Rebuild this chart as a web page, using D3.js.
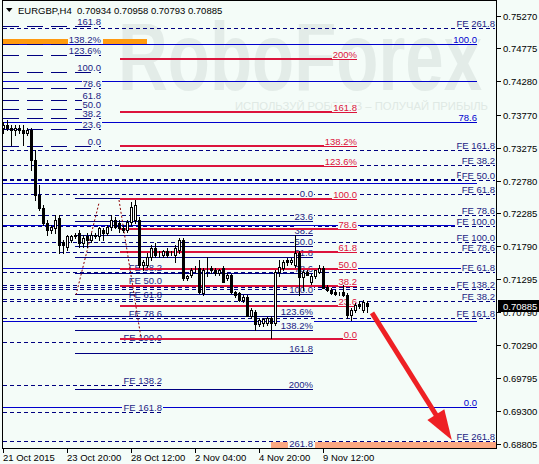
<!DOCTYPE html>
<html>
<head>
<meta charset="utf-8">
<script src="https://cdn.jsdelivr.net/npm/d3@7"></script>
<style>
body { margin: 0; background: #f4fcf8; }
svg text { font-family: "Liberation Sans", Arial, sans-serif; font-size: 9.5px; }
</style>
</head>
<body>
<script>
const width = 539;
const height = 464;
const bg = '#f4fcf8';

// EURGBP H4 candles: [open, high, low, close]
const bars = [
  [0.73574, 0.73665, 0.73499, 0.73620], [0.73620, 0.73695, 0.73544, 0.73574], [0.73574, 0.73620, 0.73318, 0.73544],
  [0.73544, 0.73620, 0.73469, 0.73574], [0.73574, 0.73620, 0.73499, 0.73544], [0.73544, 0.73620, 0.73318, 0.73499],
  [0.73499, 0.73574, 0.73469, 0.73544], [0.73544, 0.73574, 0.72940, 0.73091], [0.73091, 0.73242, 0.72487, 0.72563],
  [0.72563, 0.72714, 0.72336, 0.72366], [0.72366, 0.72412, 0.72110, 0.72140], [0.72140, 0.72185, 0.71959, 0.72034],
  [0.72034, 0.72110, 0.71989, 0.72080], [0.72064, 0.72261, 0.71989, 0.72185], [0.72215, 0.72261, 0.71687, 0.71808],
  [0.71853, 0.71883, 0.71687, 0.71808], [0.71777, 0.71959, 0.71732, 0.71944], [0.71883, 0.71959, 0.71853, 0.71944],
  [0.71959, 0.71989, 0.71913, 0.71944], [0.71989, 0.72034, 0.71777, 0.71838], [0.71838, 0.71959, 0.71777, 0.71913],
  [0.71944, 0.71989, 0.71777, 0.71883], [0.71883, 0.71989, 0.71853, 0.71959], [0.71959, 0.71989, 0.71913, 0.71944],
  [0.71944, 0.72080, 0.71883, 0.72064], [0.72034, 0.72064, 0.71883, 0.71989], [0.71989, 0.72110, 0.71959, 0.72080],
  [0.72080, 0.72261, 0.72034, 0.72185], [0.72185, 0.72230, 0.72064, 0.72080], [0.72140, 0.72185, 0.72004, 0.72064],
  [0.72064, 0.72110, 0.72004, 0.72034], [0.72034, 0.72185, 0.72004, 0.72155], [0.72155, 0.72457, 0.72110, 0.72382],
  [0.72185, 0.72487, 0.72140, 0.72412], [0.72185, 0.72230, 0.71476, 0.71506], [0.71506, 0.71581, 0.71430, 0.71551],
  [0.71506, 0.71687, 0.71476, 0.71626], [0.71626, 0.71808, 0.71581, 0.71762], [0.71762, 0.71838, 0.71626, 0.71657],
  [0.71687, 0.71717, 0.71626, 0.71687], [0.71657, 0.71732, 0.71626, 0.71717], [0.71717, 0.71762, 0.71626, 0.71657],
  [0.71687, 0.71717, 0.71657, 0.71687], [0.71657, 0.71808, 0.71551, 0.71762], [0.71732, 0.71913, 0.71687, 0.71883],
  [0.71883, 0.71913, 0.71279, 0.71310], [0.71310, 0.71355, 0.71279, 0.71340], [0.71355, 0.71461, 0.71325, 0.71430],
  [0.71430, 0.71491, 0.71400, 0.71430], [0.71461, 0.71581, 0.71083, 0.71098], [0.71083, 0.71461, 0.71053, 0.71430],
  [0.71430, 0.71626, 0.71340, 0.71430], [0.71461, 0.71491, 0.71385, 0.71430], [0.71430, 0.71461, 0.71355, 0.71385],
  [0.71385, 0.71446, 0.71355, 0.71430], [0.71461, 0.71491, 0.71249, 0.71249], [0.71310, 0.71385, 0.71279, 0.71355],
  [0.71355, 0.71370, 0.71083, 0.71098], [0.71098, 0.71113, 0.71023, 0.71053], [0.71083, 0.71098, 0.70962, 0.70977],
  [0.70977, 0.71053, 0.70947, 0.71023], [0.71023, 0.71053, 0.70736, 0.70736], [0.70736, 0.70857, 0.70705, 0.70826],
  [0.70796, 0.70826, 0.70524, 0.70615], [0.70615, 0.70705, 0.70585, 0.70675], [0.70630, 0.70705, 0.70585, 0.70690],
  [0.70630, 0.70720, 0.70600, 0.70705], [0.70705, 0.70736, 0.70403, 0.70630], [0.70630, 0.71430, 0.70600, 0.71400],
  [0.71400, 0.71581, 0.71340, 0.71476], [0.71461, 0.71581, 0.71430, 0.71551], [0.71581, 0.71611, 0.71506, 0.71551],
  [0.71551, 0.71611, 0.71521, 0.71581], [0.71506, 0.71959, 0.71476, 0.71687], [0.71687, 0.71717, 0.71053, 0.71325],
  [0.71325, 0.71430, 0.71128, 0.71400], [0.71400, 0.71430, 0.71355, 0.71355], [0.71249, 0.71370, 0.71219, 0.71340],
  [0.71340, 0.71430, 0.71310, 0.71430], [0.71400, 0.71506, 0.71385, 0.71461], [0.71461, 0.71491, 0.71159, 0.71159],
  [0.71174, 0.71204, 0.71113, 0.71128], [0.71128, 0.71159, 0.71068, 0.71083], [0.71098, 0.71128, 0.71053, 0.71068],
  [0.71068, 0.71098, 0.71053, 0.71068], [0.71098, 0.71204, 0.71038, 0.71053], [0.71053, 0.71083, 0.70705, 0.70751],
  [0.70751, 0.70857, 0.70675, 0.70826], [0.70826, 0.70932, 0.70796, 0.70902], [0.70917, 0.70962, 0.70857, 0.70887],
  [0.70826, 0.70977, 0.70796, 0.70947], [0.70934, 0.70958, 0.70793, 0.70885]
];

const timeIdx = [0, 16, 32, 48, 64, 80];
const timeLabels = ['21 Oct 2015', '23 Oct 20:00', '28 Oct 12:00', '2 Nov 04:00', '4 Nov 20:00', '9 Nov 12:00'];
const priceTicks = [0.75270, 0.74775, 0.74280, 0.73770, 0.73275, 0.72780, 0.72285, 0.71790, 0.71295, 0.70790, 0.70290, 0.69795, 0.69300, 0.68805];
const lastPrice = 0.70885;
const header = 'EURGBP,H4  0.70934 0.70958 0.70793 0.70885';

// fibonacci levels and texts
const retrLevels = [0, 23.6, 38.2, 50, 61.8, 78.6, 100, 123.6, 138.2, 161.8, 200, 261.8];
const retrText = ['0.0', '23.6', '38.2', '50.0', '61.8', '78.6', '100.0', '123.6%', '138.2%', '161.8', '200%', '261.8'];
const feLevels = [38.2, 50, 61.8, 78.6, 100, 138.2, 161.8, 261.8];
const feText = ['FE 38.2', 'FE 50.0', 'FE 61.8', 'FE 78.6', 'FE 100.0', 'FE 138.2', 'FE 161.8', 'FE 261.8'];

// anchors: price at 0% and at 100%
const retrLeft = [0.73302, 0.74420];
const retrMid = [0.72510, 0.71072];
const retrRed = [0.70388, 0.72502];
const retrBlue = [0.69361, 0.74843];
const expUp = [0.70258, 0.72100];
const expDown = [0.73725, 0.71860];
const expLeft = [0.72054, 0.70343];
const extraBlue = 0.74284;

// shaded bands [price low, price high, bar from, bar to]
const bands = [
  [0.74827, 0.74914, 0, 16.25, '#ff9a10'],
  [0.74827, 0.74914, 25, 36, '#ff9a10'],
  [0.68737, 0.68837, 67, 71.75, '#fca882'],
  [0.68737, 0.68837, 78, 123.5, '#fca882']
];
const trend1 = [[18.25, 0.71053], [24, 0.72442]];
const trend2 = [[29, 0.72487], [34.5, 0.70403]];
const arrow = [[92.25, 0.70781], [112.2, 0.68863]];

const x = d3.scaleLinear().domain([0, 91]).range([3, 367]);
const y = d3.scaleLinear().domain([0.68805, 0.75270]).range([443.8, 15.7]);

const svg = d3.select('body').append('svg')
  .attr('width', width)
  .attr('height', height)
  .style('display', 'block');

svg.append('rect').attr('width', width).attr('height', height).attr('fill', bg);

// watermark
svg.append('text')
  .attr('x', 118).attr('y', 90)
  .attr('textLength', 364).attr('lengthAdjust', 'spacingAndGlyphs')
  .style('font-size', '97px').style('font-weight', 'bold')
  .attr('fill', '#e3ece8')
  .text('RoboForex');
svg.append('text')
  .attr('x', 235).attr('y', 110)
  .attr('textLength', 253).attr('lengthAdjust', 'spacingAndGlyphs')
  .style('font-size', '11.5px')
  .attr('fill', '#dfe9e4')
  .text('ИСПОЛЬЗУЙ РОБОТОВ – ПОЛУЧАЙ ПРИБЫЛЬ');

const plot = svg.append('g').attr('shape-rendering', 'crispEdges');

function label(g, px, py, text, color) {
  if (!text) return;
  const t = g.append('text')
    .attr('x', px).attr('y', py)
    .attr('text-anchor', 'end')
    .attr('fill', color)
    .text(text);
  const w = t.node().getComputedTextLength();
  g.insert('rect', () => t.node())
    .attr('x', px - w - 1).attr('y', py - 8)
    .attr('width', w + 2).attr('height', 9)
    .attr('fill', bg);
}

function drawLevels(anchor, levels, texts, span, color, lw, dash, textColor) {
  const g = plot.append('g');
  levels.forEach((lv, i) => {
    const py = Math.round(y(anchor[0] + (anchor[1] - anchor[0]) * lv / 100)) + (lw === 1 ? 0.5 : 0);
    g.append('line')
      .attr('x1', x(span[0])).attr('x2', x(span[1]))
      .attr('y1', py).attr('y2', py)
      .attr('stroke', color).attr('stroke-width', lw)
      .attr('stroke-dasharray', dash);
  });
  levels.forEach((lv, i) => {
    const py = Math.round(y(anchor[0] + (anchor[1] - anchor[0]) * lv / 100));
    label(g, x(span[1]), py - 1, texts[i], textColor);
  });
}

bands.forEach(b => {
  plot.append('rect')
    .attr('x', x(b[2])).attr('width', x(b[3]) - x(b[2]))
    .attr('y', y(b[1])).attr('height', y(b[0]) - y(b[1]))
    .attr('fill', b[4]);
});

// blue retracement (only some labels visible)
drawLevels(retrBlue, retrLevels.slice(0, 7), ['0.0', '', '', '', '', '78.6', '100.0'], [0, 118.5], '#0000cd', 1, null, '#0000cd');
plot.append('line')
  .attr('x1', x(0)).attr('x2', x(118.5))
  .attr('y1', Math.round(y(extraBlue)) + 0.5).attr('y2', Math.round(y(extraBlue)) + 0.5)
  .attr('stroke', '#0000cd');

drawLevels(expUp, feLevels, feText, [0, 123], '#000080', 1, '4,3', '#1c1c84');
drawLevels(expDown, feLevels, feText, [0, 123], '#000080', 1, '4,3', '#1c1c84');
drawLevels(expLeft, feLevels.slice(0, 7), feText.slice(0, 7), [0, 39.75], '#000080', 1, '4,3', '#1c1c84');
drawLevels(retrLeft, retrLevels.slice(0, 10), retrText.slice(0, 10), [0, 24.5], '#000080', 1, '16,8', '#1c1c84');
drawLevels(retrMid, retrLevels, retrText, [18, 77.5], '#000080', 1, null, '#1c1c84');
drawLevels(retrRed, retrLevels.slice(0, 11), retrText.slice(0, 11), [29.25, 88.5], '#dc143c', 2, null, '#dc143c');

[trend1, trend2].forEach(t => {
  plot.append('line')
    .attr('x1', x(t[0][0])).attr('y1', y(t[0][1]))
    .attr('x2', x(t[1][0])).attr('y2', y(t[1][1]))
    .attr('stroke', '#8b0000').attr('stroke-dasharray', '2,2')
    .attr('shape-rendering', 'auto');
});

// candles
const candles = plot.append('g');
bars.forEach((d, i) => {
  const cx = Math.round(x(i));
  const [o, h, l, c] = d;
  candles.append('line')
    .attr('x1', cx + 0.5).attr('x2', cx + 0.5)
    .attr('y1', Math.round(y(h))).attr('y2', Math.round(y(l)) + 1)
    .attr('stroke', '#000');
  const top = Math.round(y(Math.max(o, c)));
  const bot = Math.round(y(Math.min(o, c)));
  if (c < o) {
    candles.append('rect')
      .attr('x', cx - 1).attr('width', 3)
      .attr('y', top).attr('height', Math.max(1, bot - top + 1))
      .attr('fill', '#000');
  } else {
    candles.append('rect')
      .attr('x', cx - 0.5).attr('width', 2)
      .attr('y', top + 0.5).attr('height', Math.max(0, bot - top))
      .attr('fill', '#fff').attr('stroke', '#000');
  }
});

// arrow
const ax0 = x(arrow[0][0]), ay0 = y(arrow[0][1]);
const ax1 = x(arrow[1][0]), ay1 = y(arrow[1][1]);
const len = Math.hypot(ax1 - ax0, ay1 - ay0);
const ux = (ax1 - ax0) / len, uy = (ay1 - ay0) / len;
const bx = ax1 - ux * 30, by = ay1 - uy * 30;
svg.append('line')
  .attr('x1', ax0).attr('y1', ay0).attr('x2', bx + ux * 2).attr('y2', by + uy * 2)
  .attr('stroke', '#ee2024').attr('stroke-width', 5);
svg.append('path')
  .attr('d', `M${ax1},${ay1}L${bx + uy * 10},${by - ux * 10}L${bx - uy * 10},${by + ux * 10}Z`)
  .attr('fill', '#ee2024');

// frame
const frame = svg.append('g').attr('shape-rendering', 'crispEdges');
frame.append('rect')
  .attr('x', 2.5).attr('y', 0.5).attr('width', 494).attr('height', 448)
  .attr('fill', 'none').attr('stroke', '#000');

// price axis
priceTicks.forEach(p => {
  const py = Math.round(y(p)) + 0.5;
  frame.append('line').attr('x1', 497).attr('x2', 501).attr('y1', py).attr('y2', py).attr('stroke', '#000');
  svg.append('text').attr('x', 503).attr('y', py + 3.5).attr('fill', '#000').text(p.toFixed(5));
});
const ly = Math.round(y(lastPrice));
svg.append('rect').attr('x', 498).attr('y', ly - 6).attr('width', 41).attr('height', 12).attr('fill', '#000');
svg.append('text').attr('x', 503).attr('y', ly + 3.5).attr('fill', '#fff').text(lastPrice.toFixed(5));

// time axis
timeIdx.forEach((ti, k) => {
  const px = Math.round(x(ti)) + 0.5;
  frame.append('line').attr('x1', px).attr('x2', px).attr('y1', 448.5).attr('y2', 453).attr('stroke', '#000');
  svg.append('text').attr('x', px - 0.5).attr('y', 461).attr('fill', '#000').text(timeLabels[k]);
});

// header
svg.append('path').attr('d', 'M6,8L12.5,8L9.25,12Z').attr('fill', '#000');
svg.append('text').attr('x', 18).attr('y', 14).attr('fill', '#000').attr('xml:space', 'preserve')
  .style('white-space', 'pre').text(header);
</script>
</body>
</html>
